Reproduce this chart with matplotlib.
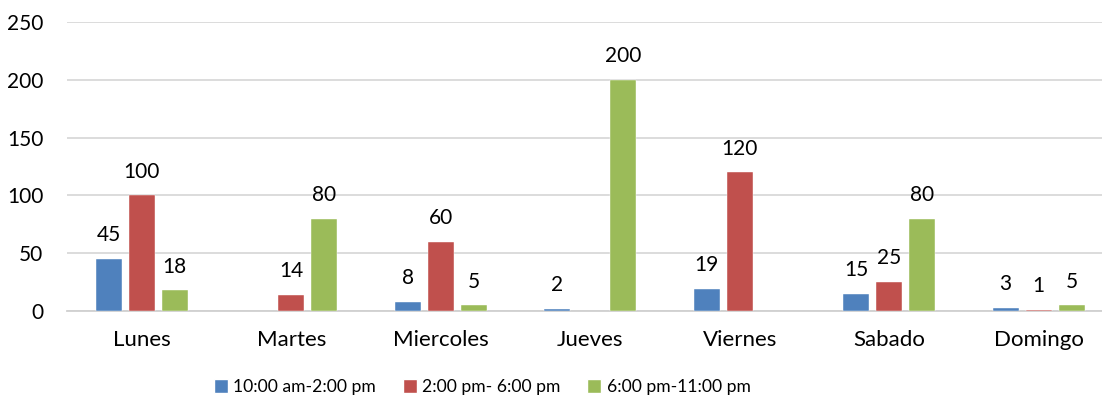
import numpy as np
import matplotlib.pyplot as plt
from matplotlib.patches import Patch

plt.rcParams["font.family"] = ["Lato", "DejaVu Sans"]

dias = ["Lunes", "Martes", "Miercoles", "Jueves", "Viernes", "Sabado", "Domingo"]
series = ["10:00 am-2:00 pm", "2:00 pm- 6:00 pm", "6:00 pm-11:00 pm"]
manana = [45, np.nan, 8, 2, 19, 15, 3]
tarde = [100, 14, 60, np.nan, 120, 25, 1]
noche = [18, 80, 5, 200, np.nan, 80, 5]
colores = ["#4F81BD", "#C0504D", "#9BBB59"]

fig = plt.figure(figsize=(11.02, 4.07), dpi=100)
ax = fig.add_axes([67/1102, 96/407, 1035/1102, 289/407])

x = np.arange(len(dias))
ancho = 0.176
paso = 0.221
for i, (vals, c) in enumerate(zip([manana, tarde, noche], colores)):
    pos = x + (i - 1) * paso
    ax.bar(pos, vals, width=ancho, color=c, edgecolor="white", linewidth=0.3, zorder=3)
    for p, v in zip(pos, vals):
        if np.isnan(v):
            continue
        ax.annotate("%d" % v, (p, v), xytext=(0, 17), textcoords="offset points",
                    ha="center", va="center", fontsize=15, color="#000000")

ax.set_xlim(-0.5, -0.5 + 1035/149.5)
ax.set_ylim(0, 250)
ax.set_yticks(range(0, 251, 50))
ax.set_xticks(x)
ax.set_xticklabels(dias, fontsize=16)
ax.grid(axis="y", color="#d9d9d9", linewidth=1.3, zorder=0)
for s in ["top", "right", "left"]:
    ax.spines[s].set_visible(False)
ax.spines["bottom"].set_color("#d0d0d0")
ax.spines["bottom"].set_linewidth(1.3)
ax.tick_params(axis="both", length=0, colors="#000000")
ax.tick_params(axis="y", pad=17, labelsize=15)
ax.tick_params(axis="x", pad=14)

handles = [Patch(facecolor=c, edgecolor="white") for c in colores]
fig.legend(handles, series, loc="center", bbox_to_anchor=(482/1102, 1 - 387/407),
           ncol=3, frameon=False, fontsize=12.6, handlelength=0.8, handleheight=0.8,
           handletextpad=0.3, columnspacing=1.55)

fig.savefig("out.png", dpi=100)
